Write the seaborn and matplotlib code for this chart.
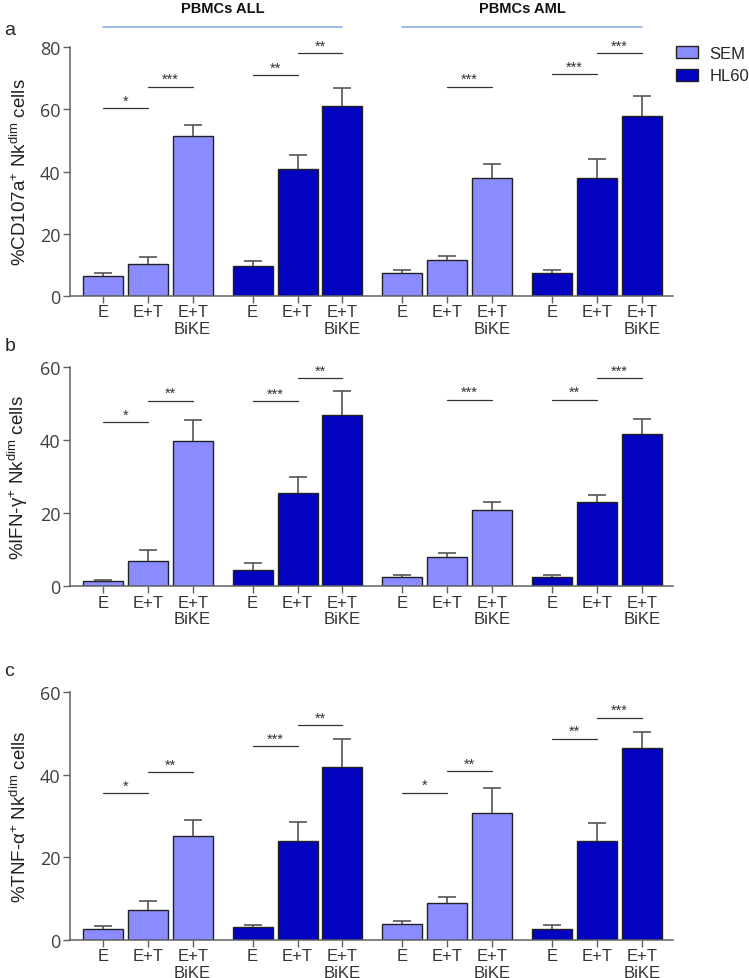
import matplotlib
matplotlib.use('Agg')
import matplotlib.pyplot as plt
from matplotlib.patches import Patch
import seaborn as sns
import pandas as pd

sns.set_style('white')
plt.rcParams['font.family'] = ['Liberation Sans', 'DejaVu Sans']
plt.rcParams['mathtext.fontset'] = 'custom'
plt.rcParams['mathtext.rm'] = 'Liberation Sans'
plt.rcParams['mathtext.it'] = 'Liberation Sans:italic'

# data (mean and upper SEM)
cells = ['SEM', 'SEM', 'SEM', 'HL60', 'HL60', 'HL60'] * 2
conditions = ['E', 'E+T', 'E+T\nBiKE'] * 4
cohorts = ['PBMCs ALL', 'PBMCs AML']

cd107a_mean = [6.4, 10.3, 51.3, 9.7, 40.8, 61.0, 7.3, 11.5, 37.8, 7.3, 37.8, 58.0]
cd107a_sem = [0.9, 2.1, 3.6, 1.4, 4.5, 5.7, 1.2, 1.5, 4.5, 1.2, 6.2, 6.2]
ifng_mean = [1.4, 6.8, 39.8, 4.5, 25.4, 46.8, 2.5, 7.9, 20.9, 2.5, 22.9, 41.7]
ifng_sem = [0.2, 3.2, 5.6, 1.9, 4.5, 6.5, 0.7, 1.3, 2.0, 0.7, 2.1, 4.1]
tnfa_mean = [2.7, 7.3, 25.2, 3.2, 24.0, 41.8, 3.9, 8.9, 30.7, 2.7, 23.9, 46.6]
tnfa_sem = [0.8, 2.1, 3.9, 0.5, 4.5, 7.0, 0.6, 1.6, 6.1, 0.9, 4.4, 3.8]

# significance brackets: (bar i, bar j, height, stars)
sig_a = [(0, 1, 60.4, '*'), (1, 2, 67.3, '***'), (3, 4, 71.0, '**'), (4, 5, 78.0, '**'),
         (7, 8, 67.3, '***'), (9, 10, 71.3, '***'), (10, 11, 78.0, '***')]
sig_b = [(0, 1, 44.8, '*'), (1, 2, 50.7, '**'), (3, 4, 50.5, '***'), (4, 5, 56.8, '**'),
         (7, 8, 51.0, '***'), (9, 10, 51.0, '**'), (10, 11, 56.8, '***')]
sig_c = [(0, 1, 35.5, '*'), (1, 2, 40.7, '**'), (3, 4, 46.9, '***'), (4, 5, 52.0, '**'),
         (6, 7, 35.7, '*'), (7, 8, 40.9, '**'), (9, 10, 48.7, '**'), (10, 11, 53.8, '***')]

palette = {'SEM': '#8a8cff', 'HL60': '#0202bf'}

# bar positions: groups of three with a wider gap between groups
gap = 1 / 3
pos = [g * (3 + gap) + k for g in range(4) for k in range(3)]

fig = plt.figure(figsize=(7.49, 9.79), dpi=100)
ax_a = fig.add_axes([0.0935, 0.6966, 0.805, 0.2543])
ax_b = fig.add_axes([0.0935, 0.4001, 0.805, 0.2243])
ax_c = fig.add_axes([0.0935, 0.0388, 0.805, 0.2530])

panels = [
    (ax_a, cd107a_mean, cd107a_sem, sig_a, 80, r'%CD107a$^{+}$ Nk$^{\mathrm{dim}}$ cells', 'a'),
    (ax_b, ifng_mean, ifng_sem, sig_b, 60, r'%IFN-γ$^{+}$ Nk$^{\mathrm{dim}}$ cells', 'b'),
    (ax_c, tnfa_mean, tnfa_sem, sig_c, 60, r'%TNF-α$^{+}$ Nk$^{\mathrm{dim}}$ cells', 'c'),
]

for ax, mean, sem, sig, ymax, ylabel, letter in panels:
    df = pd.DataFrame({'pos': pos, 'cell': cells, 'value': mean})
    sns.barplot(data=df, x='pos', y='value', hue='cell', hue_order=['SEM', 'HL60'],
                palette=palette, saturation=1, native_scale=True, width=0.89, errorbar=None,
                edgecolor='#222222', linewidth=1.0, legend=False, ax=ax)
    # upper-only error bars
    eb = ax.errorbar(pos, mean, yerr=[[0] * len(sem), sem], fmt='none', ecolor='#555555',
                     elinewidth=1.2, capsize=6.5, capthick=1.2, zorder=1)
    for cap in eb[1]:
        if list(cap.get_ydata()) == list(mean):
            cap.set_visible(False)
    for i, j, h, stars in sig:
        ax.plot([pos[i], pos[j]], [h, h], color='#333333', lw=0.9)
        ax.annotate(stars, ((pos[i] + pos[j]) / 2, h), xytext=(0, 0.5), textcoords='offset points',
                    ha='center', va='bottom', fontsize=10.5, color='#333333')
    ax.set_xlim(-0.73, 12.69)
    ax.set_ylim(0, ymax)
    ax.set_yticks(range(0, ymax + 1, 20))
    ax.set_xticks(pos)
    ax.set_xticklabels(conditions, fontsize=12, color='#333333', linespacing=1.1)
    ax.tick_params(axis='y', labelsize=13, labelcolor='#404040', length=5, width=1, color='#606060',
                   direction='out', left=True, pad=2)
    ax.tick_params(axis='x', length=5, width=1, color='#606060', direction='out', bottom=True, pad=1)
    for lab in ax.get_yticklabels():
        lab.set_fontfamily(['Open Sans', 'DejaVu Sans'])
    ax.set_xlabel('')
    ax.set_ylabel(ylabel, fontsize=13.5, color='#222222', labelpad=7)
    sns.despine(ax=ax)
    for s in ['left', 'bottom']:
        ax.spines[s].set_color('#606060')
        ax.spines[s].set_linewidth(1.1)
    fig.text(0.006, ax.get_position().y1 + (0.018 if letter == 'a' else 0.022),
             letter, fontsize=14, ha='left', va='center')

# cohort headers over panel a
tr = ax_a.get_xaxis_transform()
for g, name in enumerate(cohorts):
    x0, x1 = pos[g * 6], pos[g * 6 + 5]
    ax_a.plot([x0, x1], [1.08, 1.08], transform=tr, color='#7fa7e3', lw=1.1, clip_on=False)
    ax_a.text((x0 + x1) / 2, 1.157, name, transform=tr, ha='center', va='center',
              fontsize=10.5, fontweight='bold', color='#111111')

handles = [Patch(facecolor=palette[c], edgecolor='#222222', label=c) for c in ['SEM', 'HL60']]
fig.legend(handles=handles, loc='upper left', bbox_to_anchor=(0.903, 0.952), frameon=False,
           fontsize=12, handlelength=1.3, handleheight=0.75, handletextpad=0.7, labelspacing=0.45,
           borderpad=0, borderaxespad=0)

fig.savefig('out.png', dpi=100)
